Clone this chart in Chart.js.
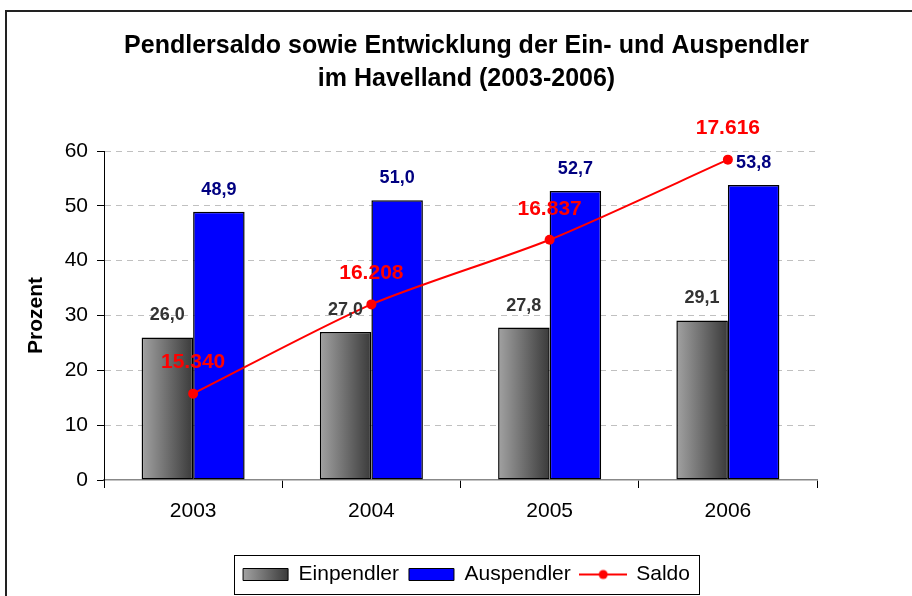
<!DOCTYPE html>
<html>
<head>
<meta charset="utf-8">
<script src="https://cdn.jsdelivr.net/npm/chart.js@4.4.1/dist/chart.umd.min.js"></script>
<style>
  html, body { margin: 0; padding: 0; background: #fff; overflow: hidden; }
  #wrap { position: relative; width: 912px; height: 596px; }
  #frame { position: absolute; left: 5px; top: 10px; width: 1000px; height: 1000px;
           border: 2px solid #222; box-sizing: border-box; }
  canvas { position: absolute; left: 0; top: 0; }
</style>
</head>
<body>
<div id="wrap">
  <div id="frame"></div>
  <canvas id="c" width="912" height="596"></canvas>
</div>
<script>
// ── DATA ──────────────────────────────────────────────────────
const years      = ['2003', '2004', '2005', '2006'];
const einpendler = [26.0, 27.0, 27.8, 29.1];     // Prozent
const auspendler = [48.9, 51.0, 52.7, 53.8];     // Prozent
const saldo      = [15340, 16208, 16837, 17616]; // Personen (zweite Achse)
const yTicks     = [0, 10, 20, 30, 40, 50, 60];

const FONT = "'Liberation Sans', Arial, sans-serif";
Chart.defaults.font.family = FONT;
Chart.defaults.color = '#000';

const fmtPct = v => v.toFixed(1).replace('.', ',');
const fmtAbs = v => Math.floor(v / 1000) + '.' + String(v % 1000).padStart(3, '0');

function grayGrad(ctx, x0, x1) {
  const g = ctx.createLinearGradient(x0, 0, x1, 0);
  g.addColorStop(0, '#a2a2a2');
  g.addColorStop(1, '#3a3a3a');
  return g;
}

// legend symbol for the Saldo line (line + dot)
const saldoIcon = document.createElement('canvas');
saldoIcon.width = 48; saldoIcon.height = 12;
(() => {
  const c = saldoIcon.getContext('2d');
  c.strokeStyle = '#ff0000'; c.lineWidth = 2;
  c.beginPath(); c.moveTo(0, 6); c.lineTo(48, 6); c.stroke();
  c.fillStyle = '#ff0000';
  c.beginPath(); c.arc(24, 6, 4.5, 0, Math.PI * 2); c.fill();
})();

// ── PLUGIN: gradients, value labels, legend frame ─────────────
const decor = {
  id: 'decor',
  beforeDraw(chart) {
    const lg = chart.legend;
    if (lg && lg.legendHitBoxes && lg.legendHitBoxes.length) {
      const hb = lg.legendHitBoxes[0];
      lg.legendItems[0].fillStyle = grayGrad(chart.ctx, hb.left, hb.left + 45);
    }
  },
  beforeDatasetsDraw(chart) {
    chart.getDatasetMeta(0).data.forEach(bar => {
      bar.options = Object.assign({}, bar.options, {
        backgroundColor: grayGrad(chart.ctx, bar.x - bar.width / 2, bar.x + bar.width / 2)
      });
    });
  },
  afterDatasetsDraw(chart) {
    const ctx = chart.ctx;
    ctx.save();
    ctx.textAlign = 'center';
    ctx.textBaseline = 'middle';
    ctx.font = 'bold 18px ' + FONT;
    ctx.fillStyle = '#333333';
    chart.getDatasetMeta(0).data.forEach((b, i) => ctx.fillText(fmtPct(einpendler[i]), b.x, b.y - 22));
    ctx.fillStyle = '#000080';
    chart.getDatasetMeta(1).data.forEach((b, i) => ctx.fillText(fmtPct(auspendler[i]), b.x, b.y - 22));
    ctx.font = 'bold 21px ' + FONT;
    ctx.fillStyle = '#ff0000';
    chart.getDatasetMeta(2).data.forEach((p, i) => ctx.fillText(fmtAbs(saldo[i]), p.x, p.y - 31));
    ctx.restore();
  },
  afterDraw(chart) {
    const hb = chart.legend.legendHitBoxes;
    if (!hb || !hb.length) return;
    const first = hb[0], last = hb[hb.length - 1];
    const cy = first.top + first.height / 2;
    const ctx = chart.ctx;
    ctx.save();
    ctx.strokeStyle = '#000';
    ctx.lineWidth = 1;
    const x0 = Math.round(first.left - 9), x1 = Math.round(last.left + last.width + 9);
    ctx.strokeRect(x0 + 0.5, Math.round(cy - 20) + 0.5, x1 - x0, 39);
    ctx.restore();
  }
};

// ── CHART ─────────────────────────────────────────────────────
new Chart(document.getElementById('c'), {
  type: 'bar',
  data: {
    labels: years,
    datasets: [
      {
        label: 'Einpendler',
        data: einpendler,
        backgroundColor: '#6e6e6e',
        borderColor: '#000',
        borderWidth: 1.5,
        borderSkipped: false,
        categoryPercentage: 0.578,
        barPercentage: 1,
        order: 1
      },
      {
        label: 'Auspendler',
        data: auspendler,
        backgroundColor: '#0000ff',
        borderColor: '#000',
        borderWidth: 1.5,
        borderSkipped: false,
        categoryPercentage: 0.578,
        barPercentage: 1,
        order: 1
      },
      {
        type: 'line',
        label: 'Saldo',
        data: saldo,
        yAxisID: 'y1',
        borderColor: '#ff0000',
        backgroundColor: '#ff0000',
        borderWidth: 2,
        pointRadius: 5,
        pointBorderWidth: 0,
        pointBackgroundColor: '#ff0000',
        tension: 0.25,
        order: 0
      }
    ]
  },
  options: {
    responsive: false,
    animation: false,
    layout: { padding: { left: 22, right: 1, top: 0, bottom: 1 } },
    plugins: {
      tooltip: { enabled: false },
      title: {
        display: true,
        text: ['Pendlersaldo sowie Entwicklung der Ein- und Auspendler', 'im Havelland (2003-2006)'],
        font: { size: 25, weight: 'bold', lineHeight: 1.32 },
        color: '#000',
        padding: { top: 30, bottom: 55 }
      },
      legend: {
        position: 'bottom',
        labels: {
          usePointStyle: true,
          pointStyleWidth: 45,
          boxHeight: 12,
          padding: 10,
          color: '#000',
          font: { size: 21 },
          generateLabels: chart => chart.data.datasets.map((ds, i) => ({
            text: ds.label,
            datasetIndex: i,
            fillStyle: ds.backgroundColor,
            strokeStyle: i < 2 ? '#000' : '#ff0000',
            lineWidth: i < 2 ? 1 : 0,
            fontColor: '#000',
            pointStyle: i < 2 ? 'rect' : saldoIcon
          }))
        }
      }
    },
    scales: {
      x: {
        offset: true,
        grid: { display: true, drawOnChartArea: false, tickLength: 8, tickColor: '#000', tickWidth: 1 },
        border: { color: '#888', width: 1.5 },
        ticks: { color: '#000', font: { size: 21 }, padding: 11 },
        afterFit: s => { s.height = 74; }
      },
      y: {
        min: 0, max: 60,
        afterBuildTicks: s => { s.ticks = yTicks.map(v => ({ value: v })); },
        ticks: { color: '#000', font: { size: 21 }, padding: 9 },
        grid: {
          color: c => (c.tick && c.tick.value === 0) ? 'rgba(0,0,0,0)' : '#c0c0c0',
          lineWidth: 1,
          tickLength: 7,
          tickColor: '#000',
          tickWidth: 1,
          tickBorderDash: []
        },
        border: { color: '#000', width: 1, dash: [6, 5] },
        title: {
          display: true, text: 'Prozent', color: '#000',
          font: { size: 21, weight: 'bold' },
          padding: { top: 2, bottom: 0 }
        },
        afterFit: s => { s.width = 82; }
      },
      y1: {
        position: 'right',
        min: 14500, max: 17700,
        ticks: { display: false },
        grid: { display: false },
        border: { display: false },
        afterFit: s => { s.width = 94; }
      }
    }
  },
  plugins: [decor]
});
</script>
</body>
</html>
